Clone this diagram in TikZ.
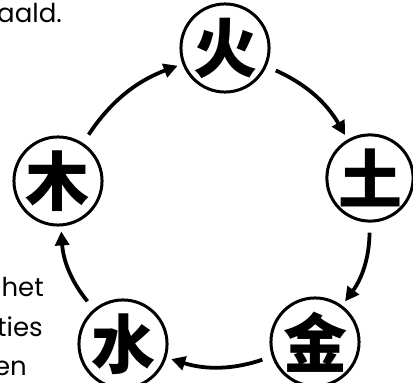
\documentclass[tikz,border=0pt]{standalone}
\usepackage{fontspec}
\setmainfont{Poppins}
\newfontfamily\cjk{Noto Sans CJK SC}
\usetikzlibrary{arrows.meta}
\begin{document}
\begin{tikzpicture}[x=1pt,y=-1pt,
  elem/.style={circle,draw,line width=3pt,inner sep=0pt,font=\cjk\bfseries\fontsize{64}{64}\selectfont},
  cyc/.style={line width=3.8pt,-{Triangle[length=14pt,width=14pt]},shorten <=10pt,shorten >=5pt,bend left=18},
  frag/.style={anchor=base east,inner sep=0pt,font=\fontsize{26}{26}\selectfont}]
\useasboundingbox (0,0) rectangle (413,383);
\node[elem,minimum size=86pt] (huo) at (225,48) {火};
\node[elem,minimum size=86pt] (tu) at (370,178) {土};
\node[elem,minimum size=78pt] (jin) at (315,342) {金};
\node[elem,minimum size=80pt] (shui) at (123,344) {水};
\node[elem,minimum size=80pt] (mu) at (58,181) {木};
\draw[cyc] (huo) to (tu);
\draw[cyc] (tu) to (jin);
\draw[cyc] (jin) to (shui);
\draw[cyc] (shui) to (mu);
\draw[cyc] (mu) to (huo);
\node[frag] (t1) at (62,22) {aald.};
\node[frag] (t2) at (44,296) {het};
\node[frag] (t3) at (43,336) {ties};
\node[frag] (t4) at (27,375) {en};
\end{tikzpicture}
\end{document}
